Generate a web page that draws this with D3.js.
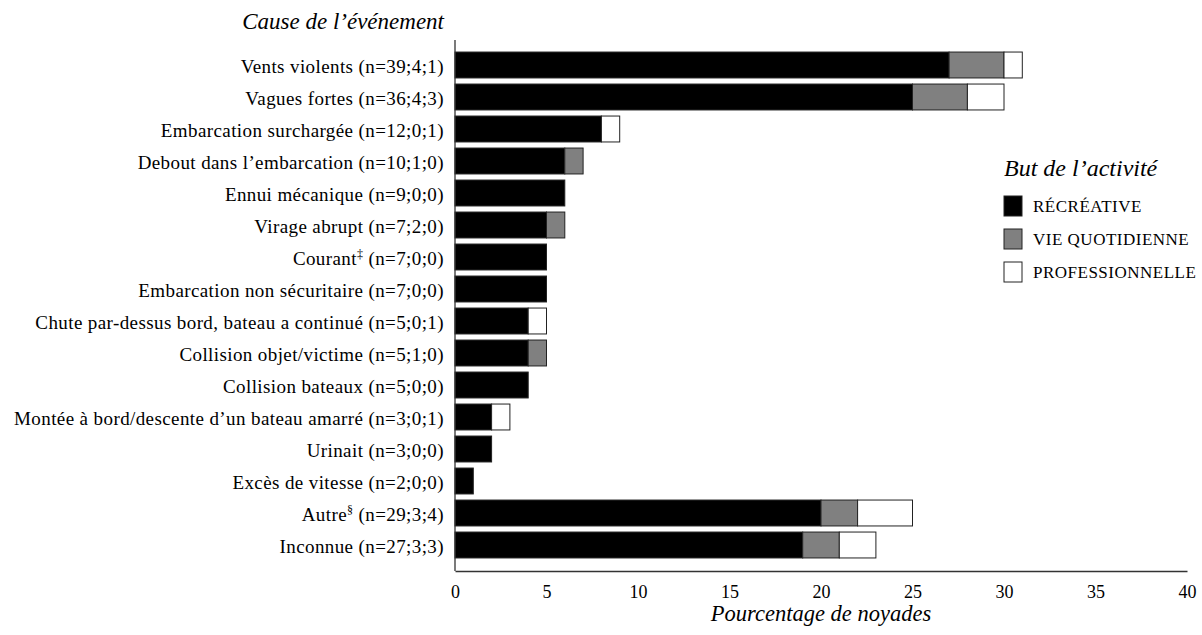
<!DOCTYPE html>
<html><head><meta charset="utf-8">
<script src="https://cdn.jsdelivr.net/npm/d3@7"></script>
<style>body{margin:0;background:#fff;} svg{display:block;} text{font-family:"Liberation Serif","DejaVu Serif",serif;fill:#000;}</style>
</head><body><svg id="c" width="1202" height="635"></svg>
<script>
const categories = [
  ["Vents violents", "", " (n=39;4;1)"],
  ["Vagues fortes", "", " (n=36;4;3)"],
  ["Embarcation surchargée", "", " (n=12;0;1)"],
  ["Debout dans l’embarcation", "", " (n=10;1;0)"],
  ["Ennui mécanique", "", " (n=9;0;0)"],
  ["Virage abrupt", "", " (n=7;2;0)"],
  ["Courant", "‡", " (n=7;0;0)"],
  ["Embarcation non sécuritaire", "", " (n=7;0;0)"],
  ["Chute par-dessus bord, bateau a continué", "", " (n=5;0;1)"],
  ["Collision objet/victime", "", " (n=5;1;0)"],
  ["Collision bateaux", "", " (n=5;0;0)"],
  ["Montée à bord/descente d’un bateau amarré", "", " (n=3;0;1)"],
  ["Urinait", "", " (n=3;0;0)"],
  ["Excès de vitesse", "", " (n=2;0;0)"],
  ["Autre", "§", " (n=29;3;4)"],
  ["Inconnue", "", " (n=27;3;3)"]
];
const recreative     = [27, 25, 8, 6, 6, 5, 5, 5, 4, 4, 4, 2, 2, 1, 20, 19];
const vieQuotidienne = [3, 3, 0, 1, 0, 1, 0, 0, 0, 1, 0, 0, 0, 0, 2, 2];
const professionnelle= [1, 2, 1, 0, 0, 0, 0, 0, 1, 0, 0, 1, 0, 0, 3, 2];
const seriesNames = ["RÉCRÉATIVE", "VIE QUOTIDIENNE", "PROFESSIONNELLE"];
const xTicks = [0, 5, 10, 15, 20, 25, 30, 35, 40];

const colors = ["#000000", "#808080", "#ffffff"];
const svg = d3.select("#c");
const x = d3.scaleLinear().domain([0, 40]).range([455, 1187]);
const ids = categories.map((d, i) => i);
const y = d3.scaleBand().domain(ids).range([49, 561]).paddingInner(0.19).paddingOuter(0.095);

const rows = ids.map(i => ({i, recreative: recreative[i], vie: vieQuotidienne[i], pro: professionnelle[i]}));
const stack = d3.stack().keys(["recreative", "vie", "pro"]);
const layers = stack(rows);

layers.forEach((layer, k) => {
  svg.append("g").selectAll("rect").data(layer.filter(d => d[1] - d[0] > 0)).join("rect")
    .attr("x", d => x(d[0]))
    .attr("width", d => x(d[1]) - x(d[0]))
    .attr("y", d => y(d.data.i))
    .attr("height", y.bandwidth())
    .attr("fill", colors[k])
    .attr("stroke", "#222")
    .attr("stroke-width", 1);
});

// axes
const xAxis = d3.axisBottom(x).tickValues(xTicks).tickSize(0).tickPadding(14);
const gx = svg.append("g").attr("transform", "translate(0,571)").call(xAxis);
gx.select(".domain").attr("stroke", "#333").attr("stroke-width", 1.3);
gx.selectAll("text").style("font-size", "18px").style("font-family", "Liberation Serif");

svg.append("line").attr("x1", 455).attr("x2", 455).attr("y1", 40).attr("y2", 571)
  .attr("stroke", "#333").attr("stroke-width", 1.3);

// category labels
const lab = svg.append("g").selectAll("text").data(ids).join("text")
  .attr("x", 444).attr("y", i => y(i) + y.bandwidth() / 2 + 7.5)
  .attr("text-anchor", "end").attr("font-size", 19).attr("letter-spacing", 0.4);
lab.each(function(i) {
  const t = d3.select(this);
  const c = categories[i];
  t.append("tspan").text(c[0]);
  if (c[1]) t.append("tspan").attr("font-size", 12).attr("dy", -7).text(c[1]);
  t.append("tspan").attr("dy", c[1] ? 7 : 0).text(c[2]);
});

svg.append("text").attr("x", 444).attr("y", 29).attr("text-anchor", "end")
  .attr("font-size", 23).attr("font-style", "italic").text("Cause de l’événement");
svg.append("text").attr("x", 821).attr("y", 621).attr("text-anchor", "middle")
  .attr("font-size", 22.5).attr("font-style", "italic").text("Pourcentage de noyades");

// legend
svg.append("text").attr("x", 1004).attr("y", 176).attr("font-size", 24)
  .attr("font-style", "italic").text("But de l’activité");
const lg = svg.append("g").selectAll("g").data(seriesNames).join("g")
  .attr("transform", (d, k) => `translate(1004,${196 + k * 33})`);
lg.append("rect").attr("width", 18).attr("height", 20)
  .attr("fill", (d, k) => colors[k]).attr("stroke", "#222").attr("stroke-width", 1);
lg.append("text").attr("x", 29).attr("y", 16).attr("font-size", 17).attr("letter-spacing", 0.5).text(d => d);
</script></body></html>
